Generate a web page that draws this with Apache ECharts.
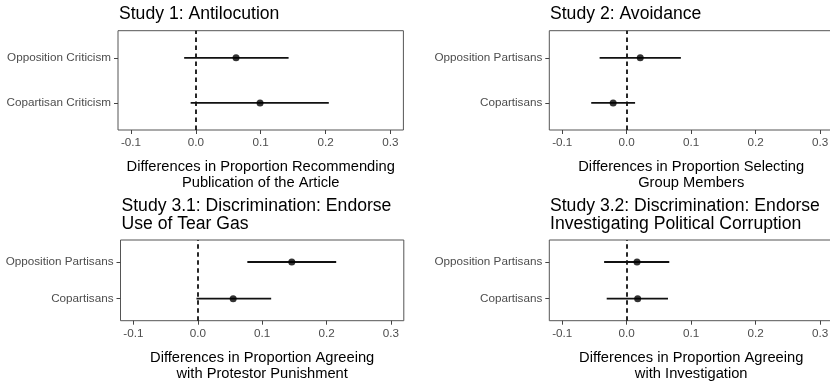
<!DOCTYPE html>
<html>
<head>
<meta charset="utf-8">
<script src="https://cdn.jsdelivr.net/npm/echarts@6/dist/echarts.min.js"></script>
<style>
  html, body { margin: 0; padding: 0; background: #fff; }
  #chart { width: 830px; height: 381px; }
</style>
</head>
<body>
<div id="chart"></div>
<script>
// ---- Data (position 1 = bottom row, position 2 = top row) ----
const titles = [
  'Study 1: Antilocution',
  'Study 2: Avoidance',
  'Study 3.1: Discrimination: Endorse\nUse of Tear Gas',
  'Study 3.2: Discrimination: Endorse\nInvestigating Political Corruption'
];
const xTitles = [
  'Differences in Proportion Recommending\nPublication of the Article',
  'Differences in Proportion Selecting\nGroup Members',
  'Differences in Proportion Agreeing\nwith Protestor Punishment',
  'Differences in Proportion Agreeing\nwith Investigation'
];
const xTicks = [-0.1, 0.0, 0.1, 0.2, 0.3];

const study1Cats = ['Copartisan Criticism', 'Opposition Criticism'];
const study1Est  = [0.099, 0.062];
const study1Lo   = [-0.008, -0.018];
const study1Hi   = [0.205, 0.143];

const study2Cats = ['Copartisans', 'Opposition Partisans'];
const study2Est  = [-0.021, 0.021];
const study2Lo   = [-0.055, -0.042];
const study2Hi   = [0.013, 0.084];

const study31Cats = ['Copartisans', 'Opposition Partisans'];
const study31Est  = [0.055, 0.146];
const study31Lo   = [-0.002, 0.077];
const study31Hi   = [0.114, 0.215];

const study32Cats = ['Copartisans', 'Opposition Partisans'];
const study32Est  = [0.017, 0.016];
const study32Lo   = [-0.031, -0.035];
const study32Hi   = [0.064, 0.066];

const panels = [
  { cats: study1Cats, est: study1Est, lo: study1Lo, hi: study1Hi },
  { cats: study2Cats, est: study2Est, lo: study2Lo, hi: study2Hi },
  { cats: study31Cats, est: study31Est, lo: study31Lo, hi: study31Hi },
  { cats: study32Cats, est: study32Est, lo: study32Lo, hi: study32Hi }
];

// ---- Layout ----
const FONT = '"Liberation Sans", Arial, Helvetica, sans-serif';
const gridPos = [
  { left: 118,   right: 426.6, top: 30.7, height: 99.3 },
  { left: 549.3, right: -3.1,  top: 30.7, height: 99.3 },
  { left: 120.5, right: 426.2, top: 240,  height: 80.7 },
  { left: 549.3, right: -3.1,  top: 240,  height: 80.7 }
];
const titlePos = [
  { left: 119, top: 5.5 },
  { left: 550, top: 5.5 },
  { left: 121.5, top: 197 },
  { left: 550, top: 197 }
];

const option = {
  animation: false,
  backgroundColor: '#fff',
  title: titles.map((t, i) => ({
    text: t,
    left: titlePos[i].left,
    top: titlePos[i].top,
    padding: 0,
    textStyle: { fontFamily: FONT, fontSize: 17.6, fontWeight: 'normal', color: '#000', lineHeight: 18 }
  })),
  grid: gridPos.map(g => Object.assign({
    show: true, borderColor: '#555', borderWidth: 1, backgroundColor: '#fff',
    containLabel: false, outerBoundsMode: 'none'
  }, g)),
  xAxis: panels.map((p, i) => ({
    type: 'value', gridIndex: i, min: -0.12, max: 0.32, position: 'bottom',
    name: xTitles[i], nameLocation: 'middle', nameGap: 28.5,
    nameTextStyle: { fontFamily: FONT, fontSize: 14.7, color: '#000', lineHeight: 16.5, verticalAlign: 'top' },
    axisLine: { show: false, onZero: false },
    splitLine: { show: false },
    axisTick: { show: true, length: 4, inside: false, customValues: xTicks, lineStyle: { color: '#444', width: 1 } },
    axisLabel: {
      show: true, margin: 7, customValues: xTicks,
      fontFamily: FONT, fontSize: 11.7, color: '#4d4d4d',
      formatter: v => (Math.abs(v) < 1e-9 ? '0.0' : v.toFixed(1))
    }
  })),
  yAxis: panels.map((p, i) => ({
    type: 'value', gridIndex: i, min: 0.4, max: 2.6, position: 'left',
    axisLine: { show: false, onZero: false },
    splitLine: { show: false },
    axisTick: { show: true, length: 4, inside: false, customValues: [1, 2], lineStyle: { color: '#444', width: 1 } },
    axisLabel: {
      show: true, margin: 7, customValues: [1, 2],
      fontFamily: FONT, fontSize: 11.7, color: '#4d4d4d',
      formatter: v => { const k = Math.round(v); return (k === 1 || k === 2) ? p.cats[k - 1] : ''; }
    }
  })),
  series: []
};

panels.forEach((p, i) => {
  // error bars
  option.series.push({
    type: 'custom', xAxisIndex: i, yAxisIndex: i, silent: true, z: 3,
    data: p.cats.map((c, k) => [p.lo[k], p.hi[k], k + 1]),
    encode: { x: [0, 1], y: 2 },
    renderItem: (params, api) => {
      const a = api.coord([api.value(0), api.value(2)]);
      const b = api.coord([api.value(1), api.value(2)]);
      return {
        type: 'line',
        shape: { x1: a[0], y1: a[1], x2: b[0], y2: b[1] },
        style: { stroke: '#111', lineWidth: 1.8 }
      };
    }
  });
  // point estimates + dashed zero line
  option.series.push({
    type: 'scatter', xAxisIndex: i, yAxisIndex: i, silent: true, z: 4,
    symbol: 'circle', symbolSize: 7,
    itemStyle: { color: '#000' },
    data: p.cats.map((c, k) => [p.est[k], k + 1]),
    markLine: {
      silent: true, symbol: 'none', animation: false,
      label: { show: false },
      lineStyle: { color: '#111', type: [4.5, 3.5], width: 1.8 },
      data: [{ xAxis: 0 }]
    }
  });
});

const chart = echarts.init(document.getElementById('chart'), null, { renderer: 'canvas' });
chart.setOption(option);
</script>
</body>
</html>
